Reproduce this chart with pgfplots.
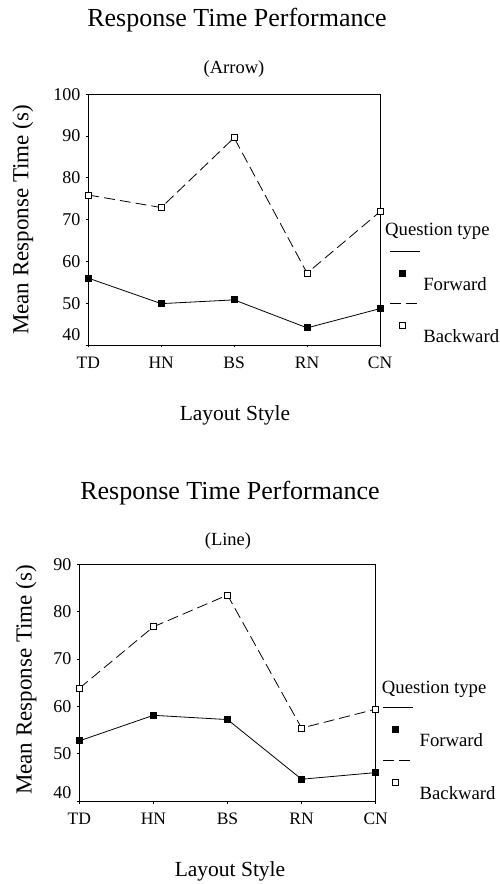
\documentclass[border=0pt]{standalone}
\usepackage{fontspec}
\setmainfont{Liberation Serif}
\usepackage{pgfplots}
\pgfplotsset{compat=1.18}

\pgfplotsset{
  rtp/.style={
    scale only axis,
    xmin=0, xmax=4,
    xtick={0,1,2,3,4},
    xticklabels={TD,HN,BS,RN,CN},
    tick pos=left,
    tick align=outside,
    major tick length=2.5pt,
    tick style={black, line width=0.8pt},
    axis line style={line width=0.8pt},
    xticklabel style={font=\fontsize{17.5}{17.5}\selectfont, anchor=base,
      text height=12pt, text depth=0pt, yshift=-21pt},
    yticklabel style={font=\fontsize{18}{18}\selectfont, xshift=-2pt},
    /pgf/number format/assume math mode=true,
    clip=false,
    legend style={draw=none, fill=none, inner sep=0pt, row sep=11.6pt,
      nodes={inner sep=0pt},
      font=\fontsize{18.7}{18.7}\selectfont,
      cells={anchor=base west}},
    legend image code/.code={
      \draw[##1, mark=none] (0pt,39pt) -- (30pt,39pt);
      \draw[##1] plot coordinates {(12pt,17pt)};
    },
  },
  fwd/.style={black, line width=0.8pt, mark=square*, mark size=3pt,
    mark options={solid, fill=black}},
  bwd/.style={black, line width=0.8pt, dash pattern=on 11pt off 5pt,
    mark=square*, mark size=3pt, mark options={solid, fill=white}},
}

\begin{document}
\begin{tikzpicture}
\useasboundingbox (0pt,0pt) rectangle (500pt,884pt);

% ---- Arrow ----
\begin{axis}[rtp,
    at={(88.3pt,539pt)}, anchor=south west,
    width=291.7pt, height=250.7pt,
    ymin=40, ymax=100,
    ytick={40,50,60,70,80,90,100},
    yticklabels={\raisebox{10.5pt}[\height][\depth]{40},50,60,70,80,90,100},
    legend style={at={(1.0319,0.3766)}, anchor=north west, column sep=3pt},
  ]
  \addplot[fwd] coordinates {(0,56.0) (1,49.9) (2,50.8) (3,44.1) (4,48.7)};
  \addlegendentry{Forward}
  \addplot[bwd] coordinates {(0,75.9) (1,72.9) (2,89.6) (3,57.2) (4,71.9)};
  \addlegendentry{Backward}
\end{axis}

\node[anchor=base, font=\fontsize{26}{26}\selectfont] at (237pt,857.3pt) {Response Time Performance};
\node[anchor=base, font=\fontsize{18.5}{18.5}\selectfont] at (234pt,810.7pt) {(Arrow)};
\node[anchor=base, rotate=90, font=\fontsize{23}{23}\selectfont] at (28.3pt,664pt) {Mean Response Time (s)};
\node[anchor=base, font=\fontsize{21.5}{21.5}\selectfont] at (235pt,463.3pt) {Layout Style};
\node[anchor=base west, inner sep=0pt, font=\fontsize{18.7}{18.7}\selectfont] at (385pt,648pt) {Question type};

% ---- Line ----
\begin{axis}[rtp,
    at={(79.3pt,83pt)}, anchor=south west,
    width=296.4pt, height=236.7pt,
    ymin=40, ymax=90,
    ytick={40,50,60,70,80,90},
    yticklabels={\raisebox{8.3pt}[\height][\depth]{40},50,60,70,80,90},
    legend style={at={(1.0236,0.3959)}, anchor=north west, column sep=6pt},
  ]
  \addplot[fwd] coordinates {(0,52.7) (1,58.1) (2,57.2) (3,44.6) (4,46.0)};
  \addlegendentry{Forward}
  \addplot[bwd] coordinates {(0,63.8) (1,76.8) (2,83.5) (3,55.4) (4,59.4)};
  \addlegendentry{Backward}
\end{axis}

\node[anchor=base, font=\fontsize{26}{26}\selectfont] at (230pt,384.7pt) {Response Time Performance};
\node[anchor=base, font=\fontsize{18.5}{18.5}\selectfont] at (228pt,338pt) {(Line)};
\node[anchor=base, rotate=90, font=\fontsize{23}{23}\selectfont] at (31.7pt,204pt) {Mean Response Time (s)};
\node[anchor=base, font=\fontsize{21.5}{21.5}\selectfont] at (230pt,7.3pt) {Layout Style};
\node[anchor=base west, inner sep=0pt, font=\fontsize{18.7}{18.7}\selectfont] at (381.7pt,190.7pt) {Question type};
\end{tikzpicture}
\end{document}
